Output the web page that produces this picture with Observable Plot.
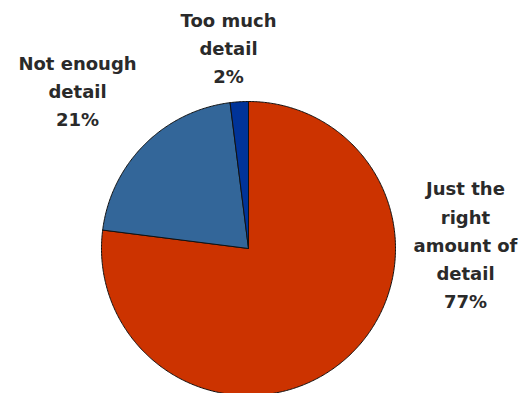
<!DOCTYPE html>
<html>
<head>
<meta charset="utf-8">
<script src="https://cdn.jsdelivr.net/npm/d3@7"></script>
<script src="https://cdn.jsdelivr.net/npm/@observablehq/plot@0.6"></script>
<style>
  html, body { margin: 0; padding: 0; background: #fff; }
</style>
</head>
<body>
<div id="chart"></div>
<script>
// Data
const categories = ["Just the right amount of detail", "Not enough detail", "Too much detail"];
const values = [77, 21, 2];
const labelLines = [
  ["Just the", "right", "amount of", "detail"],
  ["Not enough", "detail"],
  ["Too much", "detail"]
];
const colors = ["#cc3300", "#336699", "#003399"];

// Layout (in pie-radius units, centre at 0,0)
const W = 523, H = 393;
const R = 147, CX = 248, CY = 248;
const labelPos = [[1.476, 0.04], [-1.163, 1.083], [-0.136, 1.38]];

const pie = d3.pie().sort(null).value(d => d)(values);
const polys = [];
pie.forEach((p, i) => {
  const n = Math.max(4, Math.ceil((p.endAngle - p.startAngle) / 0.01));
  polys.push({k: i, x: 0, y: 0});
  for (let j = 0; j <= n; j++) {
    const a = p.startAngle + (p.endAngle - p.startAngle) * j / n;
    polys.push({k: i, x: Math.sin(a), y: Math.cos(a)});
  }
  polys.push({k: i, x: 0, y: 0});
});

const labels = categories.map((c, i) => ({
  text: labelLines[i].join("\n") + "\n" + values[i] + "%",
  x: labelPos[i][0],
  y: labelPos[i][1]
}));

const chart = Plot.plot({
  width: W,
  height: H,
  margin: 0,
  x: {domain: [-CX / R, (W - CX) / R], axis: null},
  y: {domain: [(CY - H) / R, CY / R], axis: null},
  marks: [
    Plot.line(polys, {
      x: "x", y: "y", z: "k",
      fill: d => colors[d.k],
      stroke: "#111",
      strokeWidth: 1,
      strokeLinejoin: "round",
      curve: "linear"
    }),
    Plot.text(labels, {
      x: "x", y: "y", text: "text",
      fontFamily: "DejaVu Sans",
      fontWeight: "bold",
      fontSize: 18,
      lineHeight: 1.56,
      fill: "#2a2a2a",
      textAnchor: "middle",
      lineAnchor: "middle"
    })
  ]
});
document.getElementById("chart").appendChild(chart);
</script>
</body>
</html>
